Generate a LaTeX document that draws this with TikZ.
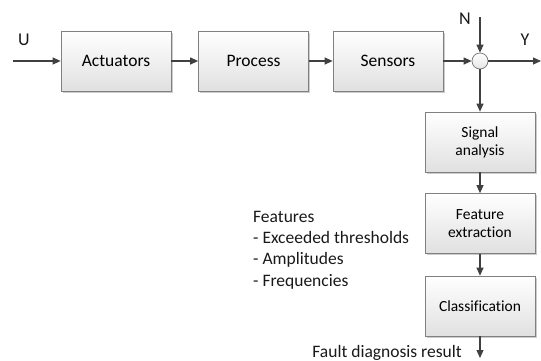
\documentclass[tikz,border=0pt]{standalone}
\usepackage{fontspec}
\setmainfont[Ligatures=NoCommon]{Carlito}
\usetikzlibrary{arrows.meta,shadows}
\begin{document}
\begin{tikzpicture}[x=1pt,y=-1pt,
 blk/.style={draw=black!50, line width=0.7pt, top color=white, bottom color=black!12,
   minimum width=110pt, minimum height=60pt, inner sep=0pt, align=center,
   drop shadow={shadow xshift=1.8pt, shadow yshift=-1.8pt, fill=black!25, opacity=0.8},
   font=\fontsize{17.5}{20}\selectfont},
 sblk/.style={blk, font=\fontsize{15.5}{18}\selectfont},
 arr/.style={-{Triangle[length=8pt,width=7pt]}, draw=black!75, line width=1.1pt},
 lbl/.style={font=\fontsize{18}{21}\selectfont, inner sep=0pt, text=black!90}
]
\useasboundingbox (0,0) rectangle (541,360);
\node[blk] (act) at (116,61) {Actuators};
\node[blk] (proc) at (253.5,61) {Process};
\node[blk] (sens) at (388,61) {Sensors};
\node[circle, draw=black!55, line width=0.7pt, top color=white, bottom color=black!10, minimum size=16pt, inner sep=0pt] (sum) at (480,61) {};
\node[sblk] (sig) at (480,142) {Signal\\analysis};
\node[sblk] (feat) at (480,223.5) {Feature\\extraction};
\node[sblk] (cls) at (480,306) {Classification};

\node[lbl] (u) at (24,40) {U};
\node[lbl] (y) at (525,40) {Y};
\node[lbl] (n) at (465,19) {N};
\node[lbl, anchor=west, align=left, font=\fontsize{17.5}{21.3}\selectfont] (fl) at (253,250)
  {Features\\- Exceeded thresholds\\- Amplitudes\\- Frequencies};
\node[lbl, anchor=base east, font=\fontsize{17.5}{21}\selectfont] (res) at (462,357) {Fault diagnosis result};

\coordinate (uin) at (13,61);
\coordinate (yout) at (541,61);
\coordinate (nin) at (480,17);
\coordinate (fin) at (480,358);

\draw[arr] (uin) -- (act);
\draw[arr] (act) -- (proc);
\draw[arr] (proc) -- (sens);
\draw[arr] (sens) -- (sum);
\draw[arr] (sum) -- (yout);
\draw[arr] (nin) -- (sum);
\draw[arr] (sum) -- (sig);
\draw[arr] (sig) -- (feat);
\draw[arr] (feat) -- (cls);
\draw[arr] (cls) -- (fin);
\end{tikzpicture}
\end{document}
